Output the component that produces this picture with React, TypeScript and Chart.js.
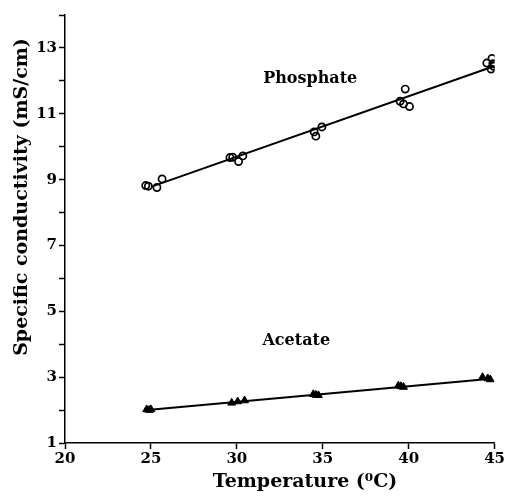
import React, { useEffect, useRef } from "react";
import { Chart, registerables } from "chart.js";

Chart.register(...registerables);

// Phosphate buffer measurements (temperature °C, conductivity mS/cm)
const phosphateT = [24.7, 24.85, 25.35, 25.65, 29.6, 29.76, 30.1, 30.35, 34.5, 34.6, 34.95, 39.5, 39.7, 39.8, 40.05, 44.55, 44.8, 44.85, 44.9, 44.95];
const phosphateC = [8.82, 8.8, 8.76, 9.02, 9.67, 9.68, 9.55, 9.72, 10.45, 10.32, 10.6, 11.38, 11.3, 11.75, 11.22, 12.54, 12.36, 12.68, 12.52, 12.44];

// Acetate buffer measurements
const acetateT = [24.75, 24.9, 25.0, 29.7, 30.05, 30.45, 34.45, 34.6, 34.75, 39.4, 39.55, 39.7, 44.3, 44.6, 44.75];
const acetateC = [2.02, 2.0, 2.02, 2.22, 2.26, 2.29, 2.48, 2.46, 2.45, 2.74, 2.72, 2.7, 3.0, 2.96, 2.93];

// Fitted lines
const phosphateFitT = [25, 45];
const phosphateFitC = [8.78, 12.45];
const acetateFitT = [24.8, 44.8];
const acetateFitC = [2.0, 2.95];

// Axis ranges / ticks
const xMin = 20, xMax = 45, xStep = 5;
const yMin = 1, yMax = 14, yStep = 1;

// Series labels (data coords)
const seriesLabels = [
  { text: "Phosphate", x: 34.27, y: 12.06 },
  { text: "Acetate", x: 33.46, y: 4.1 },
];

const xTitle = "Temperature (\u2070C)";
const yTitle = "Specific conductivity (mS/cm)";

const FONT = '"DejaVu Serif", serif';

const zip = (xs: number[], ys: number[]) => xs.map((x, i) => ({ x, y: ys[i] }));

export default function App() {
  const ref = useRef<HTMLCanvasElement | null>(null);
  useEffect(() => {
    document.body.style.margin = "0";
    const annot = {
      id: "annot",
      afterDraw(chart: any) {
        const ctx = chart.ctx;
        const xs = chart.scales.x, ys = chart.scales.y;
        ctx.save();
        ctx.fillStyle = "#000";
        ctx.textAlign = "center";
        ctx.textBaseline = "middle";
        ctx.font = `bold 16px ${FONT}`;
        seriesLabels.forEach((l) => {
          ctx.fillText(l.text, xs.getPixelForValue(l.x), ys.getPixelForValue(l.y));
        });
        ctx.font = `bold 19px ${FONT}`;
        ctx.fillText(xTitle, 305, 482);
        ctx.translate(22, 197);
        ctx.rotate(-Math.PI / 2);
        ctx.fillText(yTitle, 0, 0);
        ctx.restore();
      },
    };
    const chart = new Chart(ref.current!, {
      type: "scatter",
      data: {
        datasets: [
          {
            data: zip(phosphateFitT, phosphateFitC),
            showLine: true,
            borderColor: "#000",
            borderWidth: 2,
            pointRadius: 0,
          },
          {
            data: zip(acetateFitT, acetateFitC),
            showLine: true,
            borderColor: "#000",
            borderWidth: 2,
            pointRadius: 0,
          },
          {
            data: zip(phosphateT, phosphateC),
            pointStyle: "circle",
            pointRadius: 3.6,
            borderColor: "#000",
            borderWidth: 1.7,
            backgroundColor: "rgba(0,0,0,0)",
          },
          {
            data: zip(acetateT, acetateC),
            pointStyle: "triangle",
            pointRadius: 4.5,
            borderColor: "#000",
            borderWidth: 1,
            backgroundColor: "#000",
          },
        ],
      },
      options: {
        animation: false,
        responsive: true,
        maintainAspectRatio: false,
        layout: { padding: { top: 15, right: 10, left: 0, bottom: 0 } },
        plugins: { legend: { display: false }, tooltip: { enabled: false } },
        scales: {
          x: {
            type: "linear",
            min: xMin,
            max: xMax,
            afterFit: (s: any) => { s.height = 54; },
            border: { color: "#000", width: 1.5 },
            grid: { drawOnChartArea: false, drawTicks: true, tickLength: 6, color: "#000", tickWidth: 1.5 },
            ticks: {
              stepSize: xStep,
              color: "#000",
              padding: 1,
              font: { family: FONT, weight: "bold", size: 15 },
              maxRotation: 0,
            },
          },
          y: {
            type: "linear",
            min: yMin,
            max: yMax,
            afterFit: (s: any) => { s.width = 65; },
            border: { color: "#000", width: 1.5 },
            grid: { drawOnChartArea: false, drawTicks: true, tickLength: 6, color: "#000", tickWidth: 1.5 },
            ticks: {
              stepSize: yStep,
              color: "#000",
              padding: 2,
              font: { family: FONT, weight: "bold", size: 15 },
              callback: (v: any) => (Number(v) % 2 === 1 ? String(v) : ""),
            },
          },
        },
      },
      plugins: [annot],
    } as any);
    return () => chart.destroy();
  }, []);
  return (
    <div style={{ width: 506, height: 497, position: "relative" }}>
      <canvas ref={ref} />
    </div>
  );
}
